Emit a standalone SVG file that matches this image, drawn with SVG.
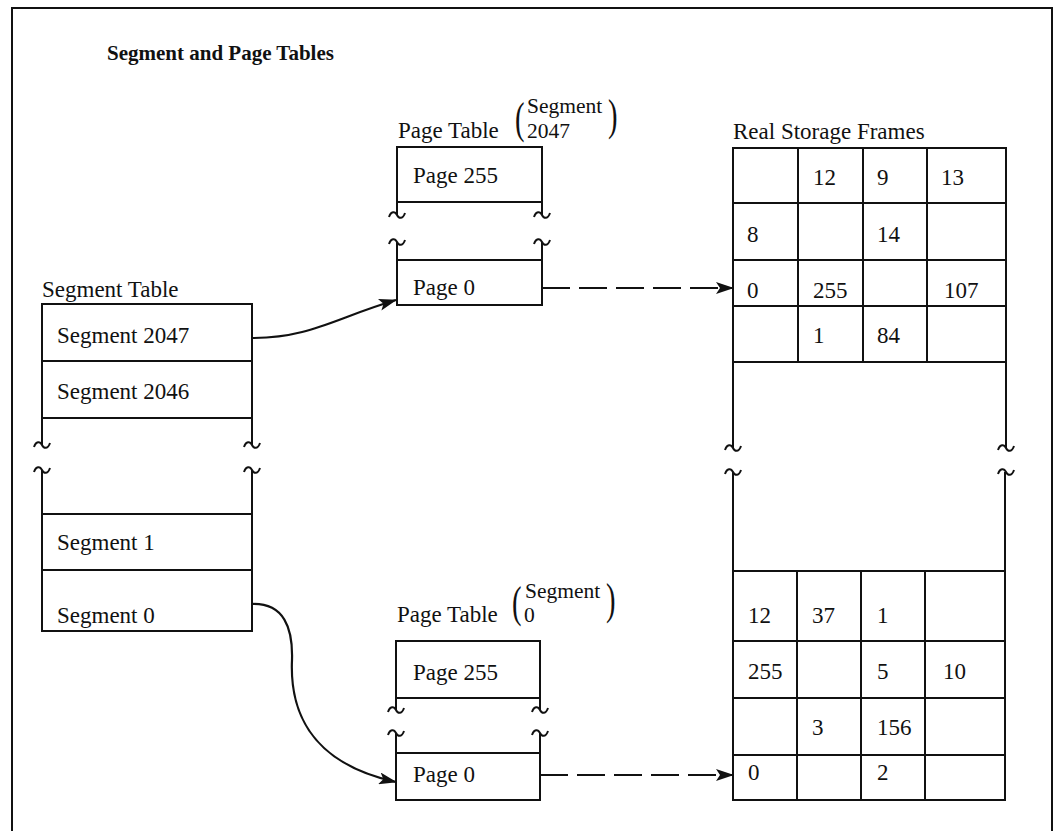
<svg xmlns="http://www.w3.org/2000/svg" xmlns:xlink="http://www.w3.org/1999/xlink" width="1055" height="831" viewBox="0 0 1055 831">
<style>
text{font-family:"Liberation Serif","Times New Roman",serif;font-size:23px;fill:#111}
.title{font-weight:bold;font-size:21px}
.paren{font-size:44px}
.sm{font-size:21.5px}
.ln{fill:none;stroke:#111;stroke-width:2}
.con{fill:none;stroke:#111;stroke-width:2.2}
.dash{stroke-dasharray:28 9}
</style>
<defs>
<path id="tl" d="M-8,2 C-6,-4 -2,-4 0,0 C2,4 6,4 8,-2" fill="none" stroke="#111" stroke-width="2"/>
<marker id="ah" markerWidth="18" markerHeight="12" refX="17" refY="6" orient="auto" markerUnits="userSpaceOnUse">
<path d="M0,0 L18,6 L0,12 L4,6 Z" fill="#111"/>
</marker>
</defs>
<rect x="12" y="8" width="1040" height="850" fill="#fff" stroke="#111" stroke-width="2"/>
<text class="title" x="107" y="60">Segment and Page Tables</text>

<g id="segment-table">
<text x="42" y="297">Segment Table</text>
<path class="ln" d="M42,445 V304 H252 V445 M42,361 H252 M42,418 H252"/>
<use xlink:href="#tl" x="42" y="445"/>
<use xlink:href="#tl" x="252" y="445"/>
<use xlink:href="#tl" x="42" y="470"/>
<use xlink:href="#tl" x="252" y="470"/>
<path class="ln" d="M42,470 V631 H252 V470 M42,514 H252 M42,570 H252"/>
<text x="57" y="343">Segment 2047</text>
<text x="57" y="399">Segment 2046</text>
<text x="57" y="550">Segment 1</text>
<text x="57" y="623">Segment 0</text>
</g>

<g id="page-table-2047">
<text x="398" y="138">Page Table</text>
<text class="paren" transform="translate(515,133) scale(0.65,1)">(</text>
<text class="sm" x="527" y="113">Segment</text>
<text class="sm" x="527" y="138">2047</text>
<text class="paren" transform="translate(608,130) scale(0.65,1)">)</text>
<path class="ln" d="M397,215 V147 H542 V215 M397,202 H542"/>
<use xlink:href="#tl" x="397" y="215"/>
<use xlink:href="#tl" x="542" y="215"/>
<use xlink:href="#tl" x="397" y="242"/>
<use xlink:href="#tl" x="542" y="242"/>
<path class="ln" d="M397,242 V305 H542 V242 M397,260 H542"/>
<text x="413" y="183">Page 255</text>
<text x="413" y="295">Page 0</text>
</g>

<g id="page-table-0">
<text x="397" y="622">Page Table</text>
<text class="paren" transform="translate(512,617) scale(0.65,1)">(</text>
<text class="sm" x="525" y="598">Segment</text>
<text class="sm" x="524" y="622">0</text>
<text class="paren" transform="translate(606,614) scale(0.65,1)">)</text>
<path class="ln" d="M396,710 V641 H540 V710 M396,698 H540"/>
<use xlink:href="#tl" x="396" y="710"/>
<use xlink:href="#tl" x="540" y="710"/>
<use xlink:href="#tl" x="396" y="733"/>
<use xlink:href="#tl" x="540" y="733"/>
<path class="ln" d="M396,733 V800 H540 V733 M396,753 H540"/>
<text x="413" y="680">Page 255</text>
<text x="413" y="782">Page 0</text>
</g>

<g id="real-storage-frames">
<text x="733" y="139">Real Storage Frames</text>
<path class="ln" d="M733,448 V148 H1006 V448 M733,203 H1006 M733,260 H1006 M733,306 H1006 M733,362 H1006 M798,148 V362 M863,148 V362 M927,148 V362"/>
<use xlink:href="#tl" x="733" y="448"/>
<use xlink:href="#tl" x="1006" y="448"/>
<use xlink:href="#tl" x="733" y="472"/>
<use xlink:href="#tl" x="1006" y="472"/>
<path class="ln" d="M733,472 V800 H1005 V472 M733,571 H1005 M733,641 H1005 M733,698 H1005 M733,755 H1005 M797,571 V800 M861,571 V800 M925,571 V800"/>
<text x="813" y="185">12</text>
<text x="877" y="185">9</text>
<text x="941" y="185">13</text>
<text x="747" y="242">8</text>
<text x="877" y="242">14</text>
<text x="747" y="298">0</text>
<text x="813" y="298">255</text>
<text x="944" y="298">107</text>
<text x="813" y="343">1</text>
<text x="877" y="343">84</text>
<text x="748" y="623">12</text>
<text x="812" y="623">37</text>
<text x="877" y="623">1</text>
<text x="748" y="679">255</text>
<text x="877" y="679">5</text>
<text x="943" y="679">10</text>
<text x="812" y="735">3</text>
<text x="877" y="735">156</text>
<text x="748" y="780">0</text>
<text x="877" y="780">2</text>
</g>

<g id="connectors">
<path class="con" d="M252,338 C310,338 335,318 396,300" marker-end="url(#ah)"/>
<path class="con" d="M252,604 C284,603 293,628 292,660 C290,705 305,762 396,782" marker-end="url(#ah)"/>
<path class="con dash" d="M542,288 H733" marker-end="url(#ah)"/>
<path class="con dash" d="M540,775 H733" marker-end="url(#ah)"/>
</g>
</svg>
